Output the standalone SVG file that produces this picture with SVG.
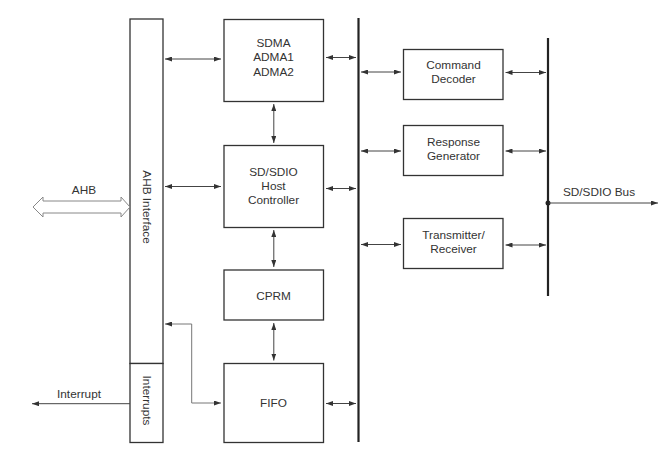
<svg xmlns="http://www.w3.org/2000/svg" width="667" height="453" viewBox="0 0 667 453">
<defs>
<marker id="ah" viewBox="0 0 7 5" refX="7" refY="2.5" markerWidth="7" markerHeight="5" markerUnits="userSpaceOnUse" orient="auto-start-reverse">
<path d="M0,0 L7,2.5 L0,5 Z" fill="#333"/>
</marker>
</defs>
<style>
.box{fill:#fff;stroke:#333;stroke-width:1.3}
.t{font-family:"Liberation Sans",Arial,sans-serif;font-size:11.8px;fill:#333;text-anchor:middle;dominant-baseline:central}
.c{fill:none;stroke:#444;stroke-width:1}
.g{fill:none;stroke:#777;stroke-width:1}
.bus{stroke:#222;stroke-width:2.2}
</style>
<rect width="667" height="453" fill="#fff"/>
<g id="ahb-interface">
<rect class="box" x="130" y="19" width="33" height="344.5"/>
<text class="t" transform="translate(146.5,207) rotate(90)">AHB Interface</text>
</g>
<g id="interrupts">
<rect class="box" x="130" y="363.5" width="33" height="79"/>
<text class="t" transform="translate(146.5,400.5) rotate(90)">Interrupts</text>
</g>
<g id="sdma">
<rect class="box" x="224" y="19.5" width="99.5" height="82"/>
<text class="t" x="273.5" y="43">SDMA</text>
<text class="t" x="273.5" y="57">ADMA1</text>
<text class="t" x="273.5" y="71.5">ADMA2</text>
</g>
<g id="host">
<rect class="box" x="224" y="145.5" width="99.5" height="82"/>
<text class="t" x="273.5" y="172">SD/SDIO</text>
<text class="t" x="273.5" y="186">Host</text>
<text class="t" x="273.5" y="200">Controller</text>
</g>
<g id="cprm">
<rect class="box" x="224" y="270" width="99.5" height="50"/>
<text class="t" x="273.5" y="295.5">CPRM</text>
</g>
<g id="fifo">
<rect class="box" x="224" y="363.5" width="99.5" height="79"/>
<text class="t" x="273.5" y="402.5">FIFO</text>
</g>
<g id="cmd">
<rect class="box" x="403.5" y="49.5" width="99.5" height="50"/>
<text class="t" x="453.5" y="65">Command</text>
<text class="t" x="453.5" y="79">Decoder</text>
</g>
<g id="resp">
<rect class="box" x="403.5" y="125.5" width="99.5" height="50"/>
<text class="t" x="453.5" y="142">Response</text>
<text class="t" x="453.5" y="156">Generator</text>
</g>
<g id="txrx">
<rect class="box" x="403.5" y="218.5" width="99.5" height="50"/>
<text class="t" x="453.5" y="235">Transmitter/</text>
<text class="t" x="453.5" y="249">Receiver</text>
</g>
<g id="buses">
<line class="bus" x1="358.5" y1="18" x2="358.5" y2="442"/>
<line class="bus" x1="548" y1="38" x2="548" y2="296"/>
<circle cx="548" cy="203" r="2.5" fill="#222"/>
</g>
<g id="connectors">
<path d="M33,207 L43,197 L43,201 L121,201 L121,197 L130,207 L121,217 L121,213 L43,213 L43,217 Z" fill="#fff" stroke="#888" stroke-width="1"/>
<text class="t" x="84" y="190">AHB</text>
<line class="c" x1="165" y1="59" x2="221" y2="59" marker-start="url(#ah)" marker-end="url(#ah)"/>
<line class="c" x1="165" y1="186.5" x2="221" y2="186.5" marker-start="url(#ah)" marker-end="url(#ah)"/>
<line class="c" x1="273.8" y1="104" x2="273.8" y2="143" marker-start="url(#ah)" marker-end="url(#ah)"/>
<line class="c" x1="273.8" y1="230" x2="273.8" y2="267" marker-start="url(#ah)" marker-end="url(#ah)"/>
<line class="c" x1="273.8" y1="323" x2="273.8" y2="360.5" marker-start="url(#ah)" marker-end="url(#ah)"/>
<line class="c" x1="326" y1="57.5" x2="356" y2="57.5" marker-start="url(#ah)" marker-end="url(#ah)"/>
<line class="c" x1="326" y1="188.5" x2="356" y2="188.5" marker-start="url(#ah)" marker-end="url(#ah)"/>
<line class="c" x1="326" y1="403.5" x2="356" y2="403.5" marker-start="url(#ah)" marker-end="url(#ah)"/>
<line class="c" x1="361" y1="72" x2="401" y2="72" marker-start="url(#ah)" marker-end="url(#ah)"/>
<line class="c" x1="361" y1="151" x2="401" y2="151" marker-start="url(#ah)" marker-end="url(#ah)"/>
<line class="c" x1="361" y1="244.5" x2="401" y2="244.5" marker-start="url(#ah)" marker-end="url(#ah)"/>
<line class="c" x1="505.5" y1="72.5" x2="546" y2="72.5" marker-start="url(#ah)" marker-end="url(#ah)"/>
<line class="c" x1="505.5" y1="151" x2="546" y2="151" marker-start="url(#ah)" marker-end="url(#ah)"/>
<line class="c" x1="505.5" y1="245" x2="546" y2="245" marker-start="url(#ah)" marker-end="url(#ah)"/>
<line class="c" x1="549" y1="203" x2="658" y2="203" marker-end="url(#ah)"/>
<text class="t" x="599" y="192">SD/SDIO Bus</text>
<path class="g" d="M165,324 L191.7,324 L191.7,403 L221,403" marker-start="url(#ah)" marker-end="url(#ah)"/>
<line class="c" x1="130" y1="403.7" x2="32" y2="403.7" marker-end="url(#ah)"/>
<text class="t" x="79" y="393.5">Interrupt</text>
</g>
</svg>
